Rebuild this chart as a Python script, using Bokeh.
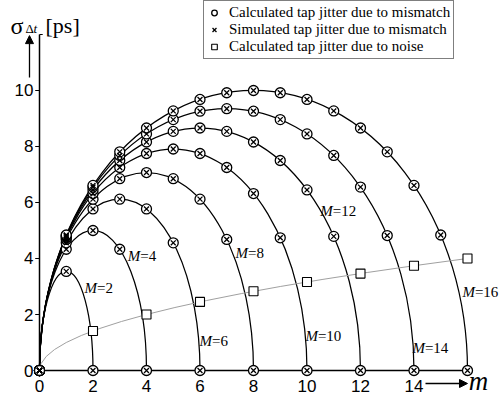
from bokeh.plotting import figure
from bokeh.models import Range1d, Legend, LegendItem, Arrow, NormalHead, Label
from bokeh.core.properties import value
from bokeh.embed import file_html
from bokeh.resources import INLINE

# ---------------- data ----------------
M_values = [2, 4, 6, 8, 10, 12, 14, 16]

calc_M2 = [0, 3.54, 0]
calc_M4 = [0, 4.33, 5.00, 4.33, 0]
calc_M6 = [0, 4.56, 5.77, 6.12, 5.77, 4.56, 0]
calc_M8 = [0, 4.68, 6.12, 6.85, 7.07, 6.85, 6.12, 4.68, 0]
calc_M10 = [0, 4.74, 6.32, 7.25, 7.75, 7.91, 7.75, 7.25, 6.32, 4.74, 0]
calc_M12 = [0, 4.79, 6.45, 7.50, 8.16, 8.54, 8.66, 8.54, 8.16, 7.50, 6.45, 4.79, 0]
calc_M14 = [0, 4.82, 6.55, 7.68, 8.45, 8.96, 9.26, 9.35, 9.26, 8.96, 8.45, 7.68, 6.55, 4.82, 0]
calc_M16 = [0, 4.84, 6.61, 7.81, 8.66, 9.27, 9.68, 9.92, 10.00, 9.92, 9.68, 9.27, 8.66, 7.81, 6.61, 4.84, 0]
calc_all = [calc_M2, calc_M4, calc_M6, calc_M8, calc_M10, calc_M12, calc_M14, calc_M16]
# simulated points coincide with the calculated ones in the picture
sim_all = [list(v) for v in calc_all]

noise_m = [2, 4, 6, 8, 10, 12, 14, 16]
noise_sigma = [1.41, 2.00, 2.45, 2.83, 3.16, 3.46, 3.74, 4.00]

x_ticks = [0, 2, 4, 6, 8, 10, 12, 14]
y_ticks = [0, 2, 4, 6, 8, 10]
x_axis_end = 16
y_axis_end = 12

legend_labels = ["Calculated tap jitter due to mismatch",
                 "Simulated tap jitter due to mismatch",
                 "Calculated tap jitter due to noise"]

# ---------------- layout (positions of the curve labels) ----------------
lab_x = [1.68, 3.30, 5.98, 7.33, 9.94, 10.50, 13.94, 15.81]
lab_y = [2.93, 4.10, 1.07, 4.18, 1.25, 5.68, 0.79, 2.82]

SERIF = "Liberation Serif"
SANS = "Liberation Sans"

# the whole canvas is the plot frame; axes are drawn at the origin
p = figure(width=500, height=401, output_backend="svg", toolbar_location=None,
           x_range=Range1d(-1.458, 17.234), y_range=Range1d(-1.107, 13.214),
           x_axis_location=None, y_axis_location=None, min_border=0)
p.outline_line_color = None
p.grid.visible = False
p.background_fill_color = "white"
p.border_fill_color = "white"

# mismatch curves: upper halves of ellipses through each M's points
peaks = [max(v) for v in calc_all]
p.ellipse(x=[M / 2 for M in M_values], y=[0] * len(M_values),
          width=M_values, height=[2 * pk for pk in peaks],
          fill_color=None, line_color="black", line_width=1.25)
# hide the lower halves
p.quad(left=[-2], right=[18], bottom=[-12], top=[0], fill_color="white", line_color=None)

# noise curve (parabola m ~ sigma^2 as a quadratic Bezier)
p.quadratic(x0=[0], y0=[0], x1=[noise_m[-1]], y1=[noise_sigma[-1]],
            cx=[0], cy=[noise_sigma[-1] / 2], line_color="#a0a0a0", line_width=1)

# axes
p.segment(x0=[0, 0], y0=[0, 0], x1=[x_axis_end, 0], y1=[0, y_axis_end],
          line_color="black", line_width=1.5)
p.segment(x0=[0, 0], y0=[y_axis_end, y_axis_end], x1=[0, 0.12], y1=[y_axis_end, y_axis_end],
          line_color="black", line_width=1.2)
p.segment(x0=[0] * len(y_ticks), y0=y_ticks, x1=[-0.16] * len(y_ticks), y1=y_ticks,
          line_color="black", line_width=1.2)
p.text(x=[0] * len(y_ticks), y=y_ticks, text=[str(t) for t in y_ticks], x_offset=-6,
       text_align="right", text_baseline="middle", text_font=value(SANS),
       text_font_size="17px", text_color="black")
p.text(x=x_ticks, y=[0] * len(x_ticks), text=[str(t) for t in x_ticks], y_offset=9,
       text_align="center", text_baseline="top", text_font=value(SANS),
       text_font_size="17px", text_color="black")

xs, ys, sx, sy = [], [], [], []
for M, cv, sv in zip(M_values, calc_all, sim_all):
    xs += list(range(M + 1)); ys += cv
    sx += list(range(M + 1)); sy += sv

r_circ = p.scatter(xs, ys, marker="circle", size=10, fill_color="white",
                   line_color="black", line_width=1.3)
r_x = p.scatter(sx, sy, marker="x", size=7, line_color="black", line_width=1.3)
r_sq = p.scatter(noise_m, noise_sigma, marker="square", size=9, fill_color="white",
                 line_color="black", line_width=1.1)

# curve labels
p.text(x=lab_x, y=lab_y, text=["M"] * len(M_values), text_font=value(SERIF),
       text_font_style="italic", text_font_size="15px", text_baseline="middle",
       text_color="black")
p.text(x=lab_x, y=lab_y, text=["=%d" % M for M in M_values], x_offset=12.5,
       text_font=value(SERIF), text_font_size="15px", text_baseline="middle",
       text_color="black")

# legend
legend = Legend(items=[LegendItem(label=legend_labels[0], renderers=[r_circ]),
                       LegendItem(label=legend_labels[1], renderers=[r_x]),
                       LegendItem(label=legend_labels[2], renderers=[r_sq])],
                location=(203, 342), orientation="vertical",
                label_text_font=SERIF, label_text_font_size="15px",
                label_text_color="black", label_height=15, glyph_height=15,
                glyph_width=14, label_standoff=8, spacing=0, padding=3,
                margin=0, border_line_color="black", border_line_width=1,
                background_fill_alpha=1.0)
p.add_layout(legend, "center")

# axis arrows and titles
p.add_layout(Arrow(end=NormalHead(size=8, fill_color="black", line_color="black"),
                   x_start=-0.374, y_start=10.46, x_end=-0.374, y_end=11.96,
                   line_color="black", line_width=1.3))
p.add_layout(Arrow(end=NormalHead(size=8, fill_color="black", line_color="black"),
                   x_start=14.43, y_start=-0.464, x_end=16.0, y_end=-0.464,
                   line_color="black", line_width=1.3))
p.text(x=[16.05], y=[-0.36], text=["m"], text_font=value(SERIF), text_font_style="italic",
       text_font_size="27px", text_color="black", text_baseline="middle", text_align="left")
p.add_layout(Label(x=-1.084, y=12.32, text="σ", text_font=SERIF,
                   text_font_size="24px", text_color="black", text_baseline="alphabetic"))
p.add_layout(Label(x=-0.523, y=12.21, text="Δ", text_font=SERIF,
                   text_font_size="13px", text_color="black", text_baseline="alphabetic"))
p.add_layout(Label(x=-0.22, y=12.21, text="t", text_font=SERIF, text_font_style="italic",
                   text_font_size="13px", text_color="black", text_baseline="alphabetic"))
p.add_layout(Label(x=0.224, y=12.32, text="[ps]", text_font=SERIF,
                   text_font_size="22px", text_color="black", text_baseline="alphabetic"))

open("out.html", "w").write(file_html(p, INLINE))
